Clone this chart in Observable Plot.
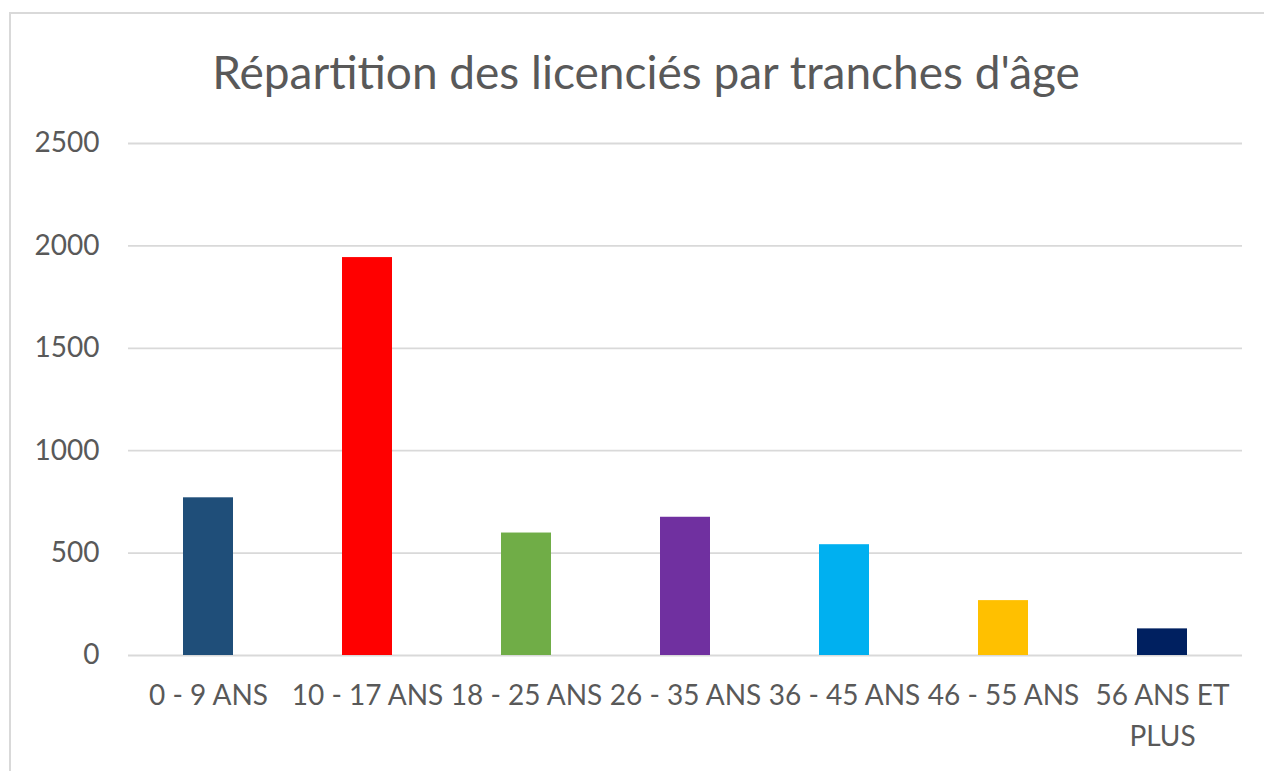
<!DOCTYPE html>
<html>
<head>
<meta charset="utf-8">
<script src="https://cdn.jsdelivr.net/npm/d3@7"></script>
<script src="https://cdn.jsdelivr.net/npm/@observablehq/plot@0.6"></script>
<style>
  body { margin: 0; background: #ffffff; }
  #wrap { position: relative; width: 1264px; height: 771px; overflow: hidden; font-family: Lato, "Open Sans", sans-serif; background: #fff; }
  #frame { position: absolute; left: 9px; top: 12px; width: 1300px; height: 800px; border-left: 2px solid #d9d9d9; border-top: 2px solid #d9d9d9; box-sizing: border-box; }
  #title { position: absolute; left: 28px; top: 0; width: 1236px; height: 120px; display: flex; align-items: center; justify-content: center; font-size: 46px; color: #595959; padding-top: 22px; box-sizing: border-box; white-space: nowrap; }
  #chart { position: absolute; left: 0; top: 120px; }
</style>
</head>
<body>
<div id="wrap">
  <div id="frame"></div>
  <div id="title">Répartition des licenciés par tranches d'âge</div>
  <div id="chart"></div>
</div>
<script>
const categories = ["0 - 9 ANS", "10 - 17 ANS", "18 - 25 ANS", "26 - 35 ANS", "36 - 45 ANS", "46 - 55 ANS", "56 ANS ET PLUS"];
const categoryLabels = ["0 - 9 ANS", "10 - 17 ANS", "18 - 25 ANS", "26 - 35 ANS", "36 - 45 ANS", "46 - 55 ANS", "56 ANS ET\nPLUS"];
const values = [770, 1943, 598, 675, 541, 268, 130];
const barColors = ["#1F4E79", "#FF0000", "#70AD47", "#7030A0", "#00B0F0", "#FFC000", "#002060"];
const yTicks = [0, 500, 1000, 1500, 2000, 2500];

const data = categories.map((c, i) => ({category: c, value: values[i], color: barColors[i]}));
const labelOf = new Map(categories.map((c, i) => [c, categoryLabels[i]]));

const chart = Plot.plot({
  width: 1264,
  height: 651,
  marginLeft: 128,
  marginRight: 22,
  marginTop: 23,
  marginBottom: 116,
  style: { fontFamily: "Lato, 'Open Sans', sans-serif", fontSize: "28px", color: "#595959", background: "transparent", overflow: "visible" },
  x: { domain: categories, paddingInner: 0.686, paddingOuter: 0.343, align: 0.5, label: null },
  y: { domain: [0, 2500], label: null },
  color: { type: "identity" },
  marks: [
    Plot.gridY(yTicks, { stroke: "#d9d9d9", strokeOpacity: 1, strokeWidth: 1.8 }),
    Plot.barY(data, { x: "category", y: "value", fill: "color" }),
    Plot.axisY(yTicks, { tickSize: 0, tickPadding: 29, label: null, fontSize: 28, fill: "#595959", tickFormat: d => String(d) }),
    Plot.axisX({ tickSize: 0, tickPadding: 20, label: null, fontSize: 28, fill: "#595959", lineHeight: 1.48, tickFormat: d => labelOf.get(d) })
  ]
});
document.getElementById("chart").appendChild(chart);
</script>
</body>
</html>
